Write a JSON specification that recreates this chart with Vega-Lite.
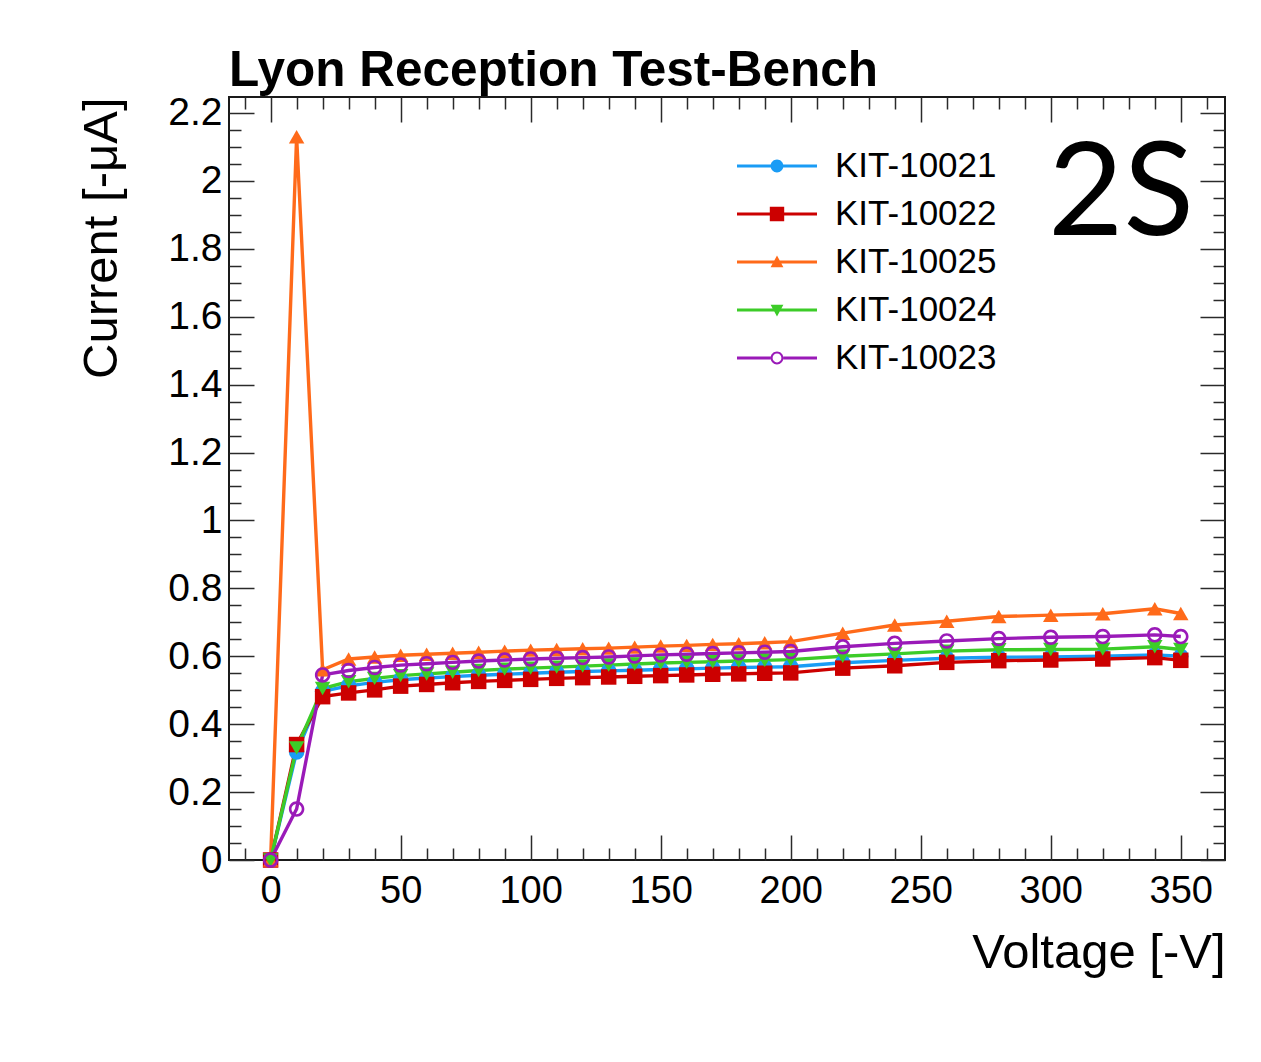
{
  "$schema": "https://vega.github.io/schema/vega-lite/v6.json",
  "width": 996,
  "height": 763,
  "autosize": {"type": "none"},
  "padding": {"left": 229, "top": 97, "right": 36, "bottom": 202},
  "background": "white",
  "config": {
    "view": {"stroke": "#1a1a1a", "strokeWidth": 2},
    "axis": {"grid": false, "domain": false, "labelFont": "Liberation Sans", "titleFont": "Liberation Sans", "labelColor": "black", "titleColor": "black", "tickColor": "#2a2a2a", "tickWidth": 1.5, "title": null}
  },
  "title": {"text": "Lyon Reception Test-Bench", "anchor": "start", "frame": "group", "font": "Liberation Sans", "fontSize": 49.5, "fontWeight": "bold", "color": "black", "baseline": "bottom", "offset": -52},
  "datasets": {
    "iv": [
      {"sensor":"KIT-10021","voltage":0,"current":0},{"sensor":"KIT-10021","voltage":10,"current":0.318},{"sensor":"KIT-10021","voltage":20,"current":0.497},{"sensor":"KIT-10021","voltage":30,"current":0.513},{"sensor":"KIT-10021","voltage":40,"current":0.523},{"sensor":"KIT-10021","voltage":50,"current":0.531},{"sensor":"KIT-10021","voltage":60,"current":0.536},{"sensor":"KIT-10021","voltage":70,"current":0.54},{"sensor":"KIT-10021","voltage":80,"current":0.544},{"sensor":"KIT-10021","voltage":90,"current":0.547},{"sensor":"KIT-10021","voltage":100,"current":0.55},{"sensor":"KIT-10021","voltage":110,"current":0.553},{"sensor":"KIT-10021","voltage":120,"current":0.555},{"sensor":"KIT-10021","voltage":130,"current":0.557},{"sensor":"KIT-10021","voltage":140,"current":0.559},{"sensor":"KIT-10021","voltage":150,"current":0.561},{"sensor":"KIT-10021","voltage":160,"current":0.563},{"sensor":"KIT-10021","voltage":170,"current":0.565},{"sensor":"KIT-10021","voltage":180,"current":0.567},{"sensor":"KIT-10021","voltage":190,"current":0.568},{"sensor":"KIT-10021","voltage":200,"current":0.569},{"sensor":"KIT-10021","voltage":220,"current":0.581},{"sensor":"KIT-10021","voltage":240,"current":0.588},{"sensor":"KIT-10021","voltage":260,"current":0.594},{"sensor":"KIT-10021","voltage":280,"current":0.597},{"sensor":"KIT-10021","voltage":300,"current":0.598},{"sensor":"KIT-10021","voltage":320,"current":0.6},{"sensor":"KIT-10021","voltage":340,"current":0.604},{"sensor":"KIT-10021","voltage":350,"current":0.6},
      {"sensor":"KIT-10022","voltage":0,"current":0},{"sensor":"KIT-10022","voltage":10,"current":0.34},{"sensor":"KIT-10022","voltage":20,"current":0.481},{"sensor":"KIT-10022","voltage":30,"current":0.492},{"sensor":"KIT-10022","voltage":40,"current":0.501},{"sensor":"KIT-10022","voltage":50,"current":0.512},{"sensor":"KIT-10022","voltage":60,"current":0.517},{"sensor":"KIT-10022","voltage":70,"current":0.522},{"sensor":"KIT-10022","voltage":80,"current":0.526},{"sensor":"KIT-10022","voltage":90,"current":0.529},{"sensor":"KIT-10022","voltage":100,"current":0.532},{"sensor":"KIT-10022","voltage":110,"current":0.535},{"sensor":"KIT-10022","voltage":120,"current":0.537},{"sensor":"KIT-10022","voltage":130,"current":0.539},{"sensor":"KIT-10022","voltage":140,"current":0.541},{"sensor":"KIT-10022","voltage":150,"current":0.543},{"sensor":"KIT-10022","voltage":160,"current":0.545},{"sensor":"KIT-10022","voltage":170,"current":0.547},{"sensor":"KIT-10022","voltage":180,"current":0.548},{"sensor":"KIT-10022","voltage":190,"current":0.55},{"sensor":"KIT-10022","voltage":200,"current":0.551},{"sensor":"KIT-10022","voltage":220,"current":0.565},{"sensor":"KIT-10022","voltage":240,"current":0.572},{"sensor":"KIT-10022","voltage":260,"current":0.582},{"sensor":"KIT-10022","voltage":280,"current":0.587},{"sensor":"KIT-10022","voltage":300,"current":0.589},{"sensor":"KIT-10022","voltage":320,"current":0.592},{"sensor":"KIT-10022","voltage":340,"current":0.596},{"sensor":"KIT-10022","voltage":350,"current":0.588},
      {"sensor":"KIT-10025","voltage":0,"current":0},{"sensor":"KIT-10025","voltage":10,"current":2.13},{"sensor":"KIT-10025","voltage":20,"current":0.56},{"sensor":"KIT-10025","voltage":30,"current":0.592},{"sensor":"KIT-10025","voltage":40,"current":0.598},{"sensor":"KIT-10025","voltage":50,"current":0.603},{"sensor":"KIT-10025","voltage":60,"current":0.606},{"sensor":"KIT-10025","voltage":70,"current":0.609},{"sensor":"KIT-10025","voltage":80,"current":0.612},{"sensor":"KIT-10025","voltage":90,"current":0.615},{"sensor":"KIT-10025","voltage":100,"current":0.618},{"sensor":"KIT-10025","voltage":110,"current":0.62},{"sensor":"KIT-10025","voltage":120,"current":0.622},{"sensor":"KIT-10025","voltage":130,"current":0.624},{"sensor":"KIT-10025","voltage":140,"current":0.627},{"sensor":"KIT-10025","voltage":150,"current":0.63},{"sensor":"KIT-10025","voltage":160,"current":0.632},{"sensor":"KIT-10025","voltage":170,"current":0.635},{"sensor":"KIT-10025","voltage":180,"current":0.637},{"sensor":"KIT-10025","voltage":190,"current":0.64},{"sensor":"KIT-10025","voltage":200,"current":0.643},{"sensor":"KIT-10025","voltage":220,"current":0.668},{"sensor":"KIT-10025","voltage":240,"current":0.692},{"sensor":"KIT-10025","voltage":260,"current":0.703},{"sensor":"KIT-10025","voltage":280,"current":0.717},{"sensor":"KIT-10025","voltage":300,"current":0.721},{"sensor":"KIT-10025","voltage":320,"current":0.725},{"sensor":"KIT-10025","voltage":340,"current":0.74},{"sensor":"KIT-10025","voltage":350,"current":0.726},
      {"sensor":"KIT-10024","voltage":0,"current":0},{"sensor":"KIT-10024","voltage":10,"current":0.33},{"sensor":"KIT-10024","voltage":20,"current":0.505},{"sensor":"KIT-10024","voltage":30,"current":0.525},{"sensor":"KIT-10024","voltage":40,"current":0.535},{"sensor":"KIT-10024","voltage":50,"current":0.543},{"sensor":"KIT-10024","voltage":60,"current":0.548},{"sensor":"KIT-10024","voltage":70,"current":0.553},{"sensor":"KIT-10024","voltage":80,"current":0.558},{"sensor":"KIT-10024","voltage":90,"current":0.562},{"sensor":"KIT-10024","voltage":100,"current":0.565},{"sensor":"KIT-10024","voltage":110,"current":0.568},{"sensor":"KIT-10024","voltage":120,"current":0.571},{"sensor":"KIT-10024","voltage":130,"current":0.574},{"sensor":"KIT-10024","voltage":140,"current":0.577},{"sensor":"KIT-10024","voltage":150,"current":0.58},{"sensor":"KIT-10024","voltage":160,"current":0.582},{"sensor":"KIT-10024","voltage":170,"current":0.584},{"sensor":"KIT-10024","voltage":180,"current":0.586},{"sensor":"KIT-10024","voltage":190,"current":0.588},{"sensor":"KIT-10024","voltage":200,"current":0.59},{"sensor":"KIT-10024","voltage":220,"current":0.6},{"sensor":"KIT-10024","voltage":240,"current":0.607},{"sensor":"KIT-10024","voltage":260,"current":0.615},{"sensor":"KIT-10024","voltage":280,"current":0.619},{"sensor":"KIT-10024","voltage":300,"current":0.62},{"sensor":"KIT-10024","voltage":320,"current":0.621},{"sensor":"KIT-10024","voltage":340,"current":0.628},{"sensor":"KIT-10024","voltage":350,"current":0.62},
      {"sensor":"KIT-10023","voltage":0,"current":0},{"sensor":"KIT-10023","voltage":10,"current":0.15},{"sensor":"KIT-10023","voltage":20,"current":0.545},{"sensor":"KIT-10023","voltage":30,"current":0.558},{"sensor":"KIT-10023","voltage":40,"current":0.567},{"sensor":"KIT-10023","voltage":50,"current":0.574},{"sensor":"KIT-10023","voltage":60,"current":0.578},{"sensor":"KIT-10023","voltage":70,"current":0.582},{"sensor":"KIT-10023","voltage":80,"current":0.586},{"sensor":"KIT-10023","voltage":90,"current":0.589},{"sensor":"KIT-10023","voltage":100,"current":0.592},{"sensor":"KIT-10023","voltage":110,"current":0.594},{"sensor":"KIT-10023","voltage":120,"current":0.596},{"sensor":"KIT-10023","voltage":130,"current":0.598},{"sensor":"KIT-10023","voltage":140,"current":0.601},{"sensor":"KIT-10023","voltage":150,"current":0.604},{"sensor":"KIT-10023","voltage":160,"current":0.606},{"sensor":"KIT-10023","voltage":170,"current":0.608},{"sensor":"KIT-10023","voltage":180,"current":0.61},{"sensor":"KIT-10023","voltage":190,"current":0.612},{"sensor":"KIT-10023","voltage":200,"current":0.614},{"sensor":"KIT-10023","voltage":220,"current":0.628},{"sensor":"KIT-10023","voltage":240,"current":0.638},{"sensor":"KIT-10023","voltage":260,"current":0.645},{"sensor":"KIT-10023","voltage":280,"current":0.652},{"sensor":"KIT-10023","voltage":300,"current":0.656},{"sensor":"KIT-10023","voltage":320,"current":0.658},{"sensor":"KIT-10023","voltage":340,"current":0.663},{"sensor":"KIT-10023","voltage":350,"current":0.658}
    ]
  },
  "data": {"name": "iv"},
  "layer": [
    {
      "mark": {"type": "line", "strokeWidth": 3.4},
      "encoding": {
        "x": {"field": "voltage", "type": "quantitative", "scale": {"domain": [-16, 367], "nice": false, "zero": false},
              "axis": {"orient": "bottom", "values": [0, 50, 100, 150, 200, 250, 300, 350], "ticks": false, "labels": true, "labelFontSize": 38, "labelPadding": 12,
                       "title": "Voltage [-V]", "titleAnchor": "end", "titleFontSize": 49, "titleFontWeight": "normal", "titlePadding": 18}},
        "y": {"field": "current", "type": "quantitative", "scale": {"domain": [0, 2.247], "nice": false, "zero": false},
              "axis": {"orient": "left", "values": [0, 0.2, 0.4, 0.6, 0.8, 1, 1.2, 1.4, 1.6, 1.8, 2, 2.2], "format": "~g", "ticks": false, "labels": true, "labelFontSize": 39, "labelPadding": 7,
                       "title": "Current [-μA]", "titleAnchor": "end", "titleFontSize": 49, "titleFontWeight": "normal", "titlePadding": 41}},
        "color": {"field": "sensor", "type": "nominal", "legend": null,
                  "scale": {"domain": ["KIT-10021", "KIT-10022", "KIT-10025", "KIT-10024", "KIT-10023"], "range": ["#1a9cf5", "#cc0000", "#ff6a1a", "#3ccc28", "#9a1ab8"]}}
      }
    },
    {
      "mark": {"type": "point", "filled": true, "size": 240, "opacity": 1, "strokeWidth": 0},
      "encoding": {
        "x": {"field": "voltage", "type": "quantitative", "scale": {"domain": [-16, 367], "nice": false, "zero": false},
              "axis": {"orient": "bottom", "values": [0, 50, 100, 150, 200, 250, 300, 350], "labels": false, "ticks": true, "tickSize": 25, "offset": -25}},
        "y": {"field": "current", "type": "quantitative", "scale": {"domain": [0, 2.247], "nice": false, "zero": false},
              "axis": {"orient": "left", "values": [0, 0.2, 0.4, 0.6, 0.8, 1, 1.2, 1.4, 1.6, 1.8, 2, 2.2], "labels": false, "ticks": true, "tickSize": 25, "offset": -25}},
        "color": {"field": "sensor", "type": "nominal", "legend": null,
                  "scale": {"domain": ["KIT-10021", "KIT-10022", "KIT-10025", "KIT-10024", "KIT-10023"], "range": ["#1a9cf5", "#cc0000", "#ff6a1a", "#3ccc28", "#9a1ab8"]}},
        "shape": {"field": "sensor", "type": "nominal", "legend": null,
                  "scale": {"domain": ["KIT-10021", "KIT-10022", "KIT-10025", "KIT-10024", "KIT-10023"],
                            "range": ["circle", "square", "triangle-up", "triangle-down", "M-1,0A1,1 0 1,1 1,0A1,1 0 1,1 -1,0Z M-0.66,0A0.66,0.66 0 1,0 0.66,0A0.66,0.66 0 1,0 -0.66,0Z"]}}
      }
    },
    {
      "transform": [{"filter": "datum.voltage < -100"}],
      "mark": {"type": "point", "filled": true, "opacity": 1, "strokeWidth": 0},
      "encoding": {
        "x": {"field": "voltage", "type": "quantitative", "scale": {"domain": [-16, 367], "nice": false, "zero": false},
              "axis": {"orient": "bottom", "values": [-10, 10, 20, 30, 40, 60, 70, 80, 90, 110, 120, 130, 140, 160, 170, 180, 190, 210, 220, 230, 240, 260, 270, 280, 290, 310, 320, 330, 340, 360], "labels": false, "ticks": true, "tickSize": 12, "offset": -12}},
        "y": {"field": "current", "type": "quantitative", "scale": {"domain": [0, 2.247], "nice": false, "zero": false},
              "axis": {"orient": "left", "values": [0.05, 0.1, 0.15, 0.25, 0.3, 0.35, 0.45, 0.5, 0.55, 0.65, 0.7, 0.75, 0.85, 0.9, 0.95, 1.05, 1.1, 1.15, 1.25, 1.3, 1.35, 1.45, 1.5, 1.55, 1.65, 1.7, 1.75, 1.85, 1.9, 1.95, 2.05, 2.1, 2.15], "labels": false, "ticks": true, "tickSize": 12, "offset": -12}},
        "color": {"field": "sensor", "type": "nominal",
                  "scale": {"domain": ["KIT-10021", "KIT-10022", "KIT-10025", "KIT-10024", "KIT-10023"], "range": ["#1a9cf5", "#cc0000", "#ff6a1a", "#3ccc28", "#9a1ab8"]},
                  "legend": {"title": null, "orient": "none", "legendX": 528, "legendY": 49, "padding": 0, "symbolSize": 1600, "symbolStrokeWidth": 0, "symbolOpacity": 1, "labelFont": "Liberation Sans", "labelFontSize": 35, "labelColor": "black", "labelLimit": 0, "labelOffset": 38, "rowPadding": 10, "symbolLimit": 0}},
        "shape": {"field": "sensor", "type": "nominal",
                  "scale": {"domain": ["KIT-10021", "KIT-10022", "KIT-10025", "KIT-10024", "KIT-10023"],
                            "range": [
                              "M-2,-0.08H2V0.08H-2Z M-0.32,0A0.32,0.32 0 1,1 0.32,0A0.32,0.32 0 1,1 -0.32,0Z",
                              "M-2,-0.08H2V0.08H-2Z M-0.36,-0.36H0.36V0.36H-0.36Z",
                              "M-2,-0.08H2V0.08H-2Z M0,-0.32L0.32,0.26H-0.32Z",
                              "M-2,-0.08H2V0.08H-2Z M-0.32,-0.26H0.32L0,0.32Z",
                              "M-2,-0.08H-0.32V0.08H-2Z M0.32,-0.08H2V0.08H0.32Z M-0.32,0A0.32,0.32 0 1,1 0.32,0A0.32,0.32 0 1,1 -0.32,0Z M-0.22,0A0.22,0.22 0 1,0 0.22,0A0.22,0.22 0 1,0 -0.22,0Z"
                            ]},
                  "legend": {"title": null, "orient": "none", "legendX": 528, "legendY": 49, "padding": 0, "symbolSize": 1600, "symbolStrokeWidth": 0, "symbolOpacity": 1, "labelFont": "Liberation Sans", "labelFontSize": 35, "labelColor": "black", "labelLimit": 0, "labelOffset": 38, "rowPadding": 10, "symbolLimit": 0}}
      }
    },
    {
      "data": {"values": [{"label": "2S"}]},
      "mark": {"type": "text", "font": "Lato", "fontSize": 130, "align": "center", "baseline": "middle", "color": "black"},
      "encoding": {
        "x": {"datum": 327, "type": "quantitative", "scale": {"domain": [-16, 367], "nice": false, "zero": false},
              "axis": {"orient": "top", "values": [0, 50, 100, 150, 200, 250, 300, 350], "labels": false, "ticks": true, "tickSize": 25, "offset": -25}},
        "y": {"datum": 1.955, "type": "quantitative", "scale": {"domain": [0, 2.247], "nice": false, "zero": false},
              "axis": {"orient": "right", "values": [0, 0.2, 0.4, 0.6, 0.8, 1, 1.2, 1.4, 1.6, 1.8, 2, 2.2], "labels": false, "ticks": true, "tickSize": 25, "offset": -25}},
        "text": {"field": "label", "type": "nominal"}
      }
    },
    {
      "transform": [{"filter": "datum.voltage < -100"}],
      "mark": {"type": "point", "opacity": 0},
      "encoding": {
        "x": {"field": "voltage", "type": "quantitative", "scale": {"domain": [-16, 367], "nice": false, "zero": false},
              "axis": {"orient": "top", "values": [-10, 10, 20, 30, 40, 60, 70, 80, 90, 110, 120, 130, 140, 160, 170, 180, 190, 210, 220, 230, 240, 260, 270, 280, 290, 310, 320, 330, 340, 360], "labels": false, "ticks": true, "tickSize": 12, "offset": -12}},
        "y": {"field": "current", "type": "quantitative", "scale": {"domain": [0, 2.247], "nice": false, "zero": false},
              "axis": {"orient": "right", "values": [0.05, 0.1, 0.15, 0.25, 0.3, 0.35, 0.45, 0.5, 0.55, 0.65, 0.7, 0.75, 0.85, 0.9, 0.95, 1.05, 1.1, 1.15, 1.25, 1.3, 1.35, 1.45, 1.5, 1.55, 1.65, 1.7, 1.75, 1.85, 1.9, 1.95, 2.05, 2.1, 2.15], "labels": false, "ticks": true, "tickSize": 12, "offset": -12}}
      }
    }
  ],
  "resolve": {
    "axis": {"x": "independent", "y": "independent"},
    "scale": {"color": "independent", "shape": "independent"}
  }
}
